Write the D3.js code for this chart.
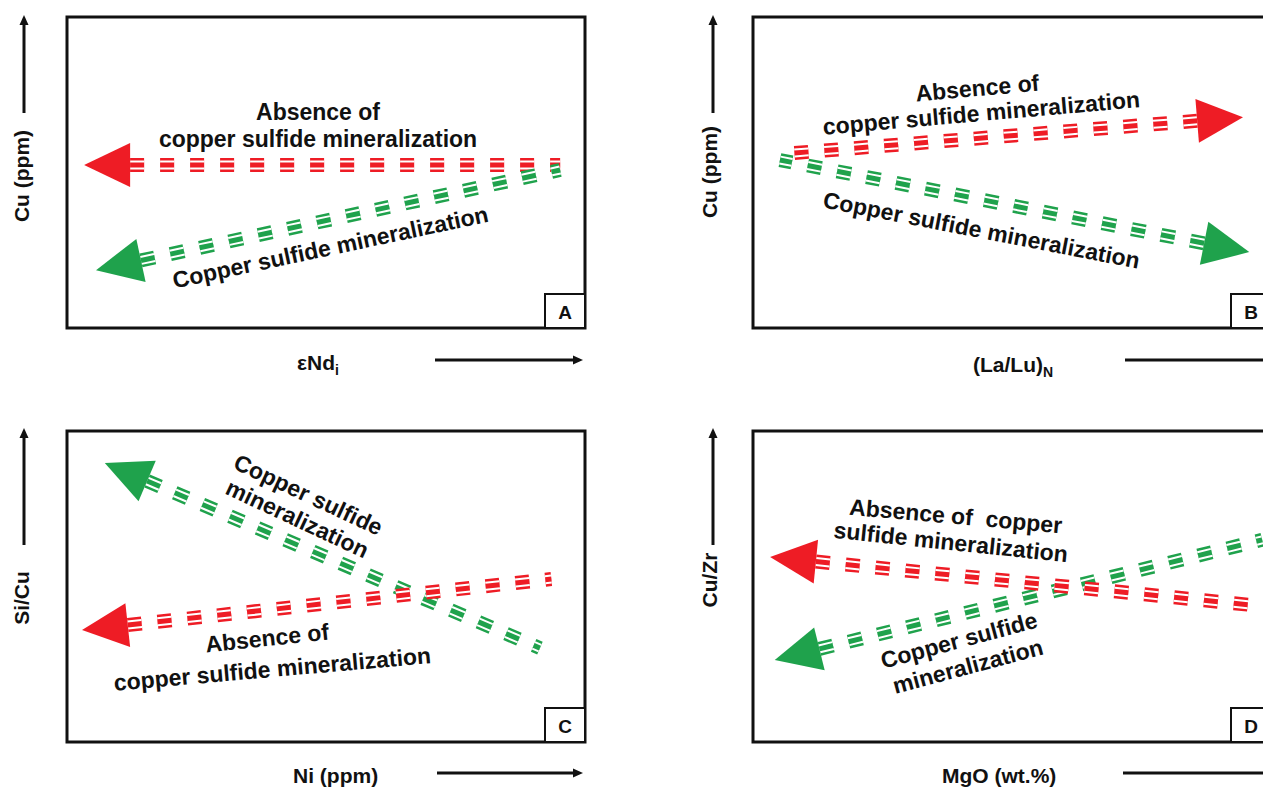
<!DOCTYPE html>
<html>
<head>
<meta charset="utf-8">
<script src="https://cdn.jsdelivr.net/npm/d3@7"></script>
<style>
  body { margin: 0; background: #fff; }
  text { font-family: "Liberation Sans", Arial, sans-serif; font-weight: bold; fill: #111; }
</style>
</head>
<body>
<svg id="fig" width="1263" height="789"></svg>
<script>
// ---- data -------------------------------------------------------------
const panelLetters = ["A", "B", "C", "D"];
const xTitles = [["εNd", "i"], ["(La/Lu)", "N"], ["Ni (ppm)", ""], ["MgO (wt.%)", ""]];
const yTitles = ["Cu (ppm)", "Cu (ppm)", "Si/Cu", "Cu/Zr"];

// Trend directions on a 0–100 schematic scale: [tail, arrow tip]
const redA   = [[95.2, 52.4], [3.3, 52.4]];
const greenA = [[95.2, 50.8], [5.6, 18.6]];
const redB   = [[5.2, 55.9], [94.6, 67.8]];
const greenB = [[5.2, 54.0], [95.8, 24.4]];
const redC   = [[93.5, 52.4], [2.9, 36.0]];
const greenC = [[91.3, 30.2], [7.3, 89.7]];
const redD   = [[98.3, 43.7], [3.3, 59.5]];
const greenD = [[98.3, 65.0], [4.2, 26.4]];

const redTrends = [redA, redB, redC, redD];
const greenTrends = [greenA, greenB, greenC, greenD];

// Annotation lines per panel
const notesA = ["Absence of", "copper sulfide mineralization", "Copper sulfide mineralization"];
const notesB = ["Absence of", "copper sulfide mineralization", "Copper sulfide mineralization"];
const notesC = ["Copper sulfide", "mineralization", "Absence of", "copper sulfide mineralization"];
const notesD = ["Absence of  copper", "sulfide mineralization", "Copper sulfide", "mineralization"];
const notes = [notesA, notesB, notesC, notesD];

// ---- layout -----------------------------------------------------------
const RED = "#ee1c25", GREEN = "#1fa24c";
const PW = 518, PH = 311;
const frames = [
  { x: 67,  y: 17 },
  { x: 753, y: 17 },
  { x: 67,  y: 431 },
  { x: 753, y: 431 }
];
// [x, y(baseline), rotation] for each annotation line
const notePos = [
  [[318, 120, 0], [318, 147, 0], [332, 255, -12]],
  [[978, 96, -5], [982, 121, -5], [980, 238, 11]],
  [[305, 502, 25], [294, 526, 25], [268, 646, -6], [273, 677, -5]],
  [[955, 524, 5], [950, 550, 6], [961, 648, -15], [970, 674, -15]]
];
// y-axis title: [text x, text center y, arrow x, arrow bottom, arrow tip]
const yTitlePos = [
  [29, 176, 24, 113, 15],
  [717, 172, 713, 113, 15],
  [29, 598, 24, 545, 428],
  [717, 580, 713, 545, 428]
];
// x-axis title: [text start x, baseline y, arrow start x, arrow end x, arrow y]
const xTitlePos = [
  [297, 370, 435, 583, 360],
  [973, 372, 1125, 1285, 360],
  [293, 783, 437, 583, 773],
  [942, 783, 1123, 1285, 773]
];

const svg = d3.select("#fig");
svg.append("rect").attr("width", 1263).attr("height", 789).attr("fill", "#fff");

const line = d3.line();

function drawTrend(g, pts, color, x, y) {
  const [t, h] = pts.map(p => [x(p[0]), y(p[1])]);
  const ang = Math.atan2(h[1] - t[1], h[0] - t[0]);
  const L = 46, W = 22;
  const base = [h[0] - L * Math.cos(ang), h[1] - L * Math.sin(ang)];
  const seg = [base, t];
  // triple-stroke dashed band: outer colour, white gap, inner colour
  [[14, color], [9, "#fff"], [5, color]].forEach(([w, c]) => {
    g.append("path")
      .attr("d", line(seg))
      .attr("fill", "none")
      .attr("stroke", c)
      .attr("stroke-width", w)
      .attr("stroke-dasharray", "14,16");
  });
  const nx = -Math.sin(ang), ny = Math.cos(ang);
  g.append("path")
    .attr("d", line([h, [base[0] + W * nx, base[1] + W * ny], [base[0] - W * nx, base[1] - W * ny]]) + "Z")
    .attr("fill", color);
}

function axisArrow(g, x1, y1, x2, y2) {
  const ang = Math.atan2(y2 - y1, x2 - x1);
  const L = 10, W = 4.5;
  const bx = x2 - L * Math.cos(ang), by = y2 - L * Math.sin(ang);
  g.append("path").attr("d", line([[x1, y1], [bx, by]]))
    .attr("stroke", "#111").attr("stroke-width", 3).attr("fill", "none");
  const nx = -Math.sin(ang), ny = Math.cos(ang);
  g.append("path")
    .attr("d", line([[x2, y2], [bx + W * nx, by + W * ny], [bx - W * nx, by - W * ny]]) + "Z")
    .attr("fill", "#111");
}

panelLetters.forEach((letter, i) => {
  const f = frames[i];
  const g = svg.append("g");
  const x = d3.scaleLinear().domain([0, 100]).range([f.x, f.x + PW]);
  const y = d3.scaleLinear().domain([0, 100]).range([f.y + PH, f.y]);

  // frame
  g.append("rect")
    .attr("x", x(0)).attr("y", y(100))
    .attr("width", x(100) - x(0)).attr("height", y(0) - y(100))
    .attr("fill", "none").attr("stroke", "#111").attr("stroke-width", 3);

  // panel letter box
  const bx = x(100) - 40, by = y(0) - 34;
  g.append("rect").attr("x", bx).attr("y", by).attr("width", 40).attr("height", 34)
    .attr("fill", "#fff").attr("stroke", "#111").attr("stroke-width", 2);
  g.append("text").attr("x", bx + 20).attr("y", by + 25)
    .attr("text-anchor", "middle").attr("font-size", 19).text(letter);

  // trends
  if (i === 2 || i === 3) {
    drawTrend(g, greenTrends[i], GREEN, x, y);
    drawTrend(g, redTrends[i], RED, x, y);
  } else {
    drawTrend(g, redTrends[i], RED, x, y);
    drawTrend(g, greenTrends[i], GREEN, x, y);
  }

  // annotations
  notes[i].forEach((t, k) => {
    const [tx, ty, rot] = notePos[i][k];
    g.append("text")
      .attr("transform", `translate(${tx},${ty}) rotate(${rot})`)
      .attr("text-anchor", "middle")
      .attr("font-size", 23)
      .style("white-space", "pre")
      .text(t);
  });

  // y-axis title and arrow
  const yp = yTitlePos[i];
  g.append("text")
    .attr("transform", `translate(${yp[0]},${yp[1]}) rotate(-90)`)
    .attr("text-anchor", "middle").attr("font-size", 21).text(yTitles[i]);
  axisArrow(g, yp[2], yp[3], yp[2], yp[4]);

  // x-axis title and arrow
  const xp = xTitlePos[i];
  const xt = g.append("text").attr("x", xp[0]).attr("y", xp[1]).attr("font-size", 21);
  xt.append("tspan").text(xTitles[i][0]);
  if (xTitles[i][1]) {
    xt.append("tspan").attr("font-size", 14).attr("dy", 5).text(xTitles[i][1]);
  }
  axisArrow(g, xp[2], xp[4], xp[3], xp[4]);
});
</script>
</body>
</html>
